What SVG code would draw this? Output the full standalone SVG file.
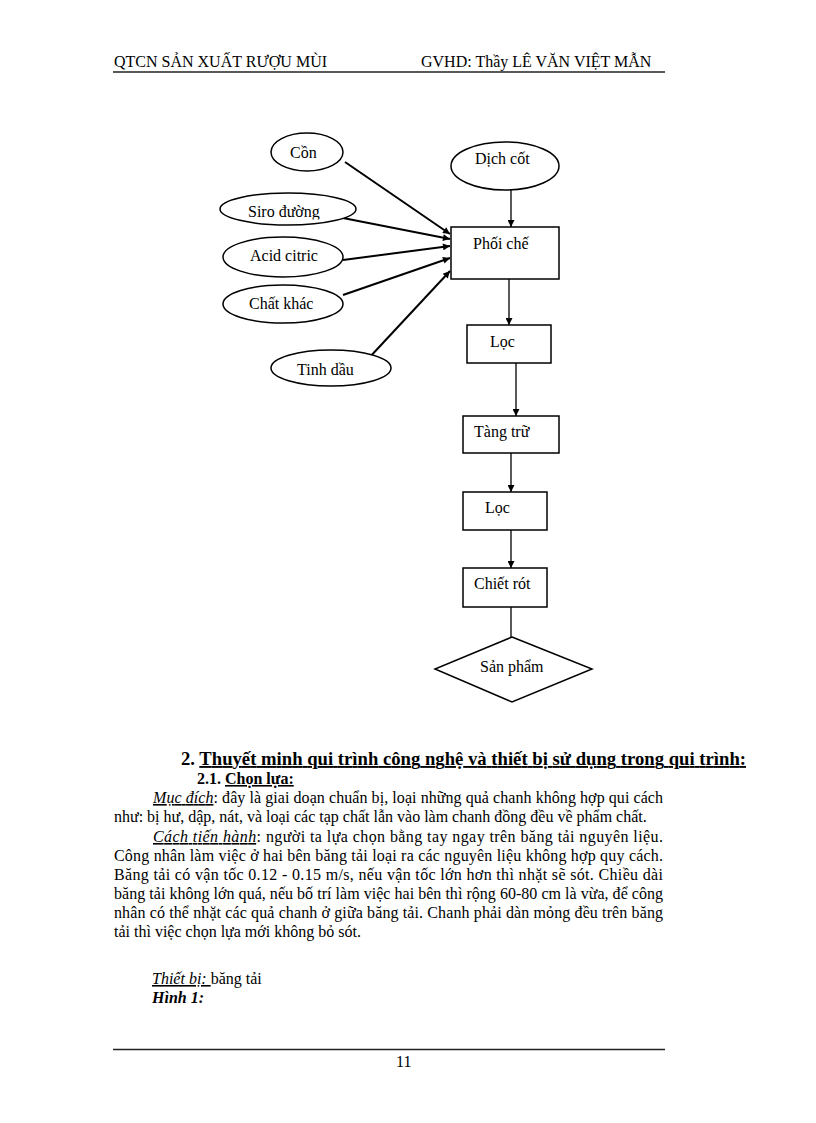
<svg xmlns="http://www.w3.org/2000/svg" width="816" height="1123" viewBox="0 0 816 1123">
<style>
text{font-family:"Liberation Serif","Times New Roman",serif;fill:#000;}
.t{font-size:16px;}
.lbl{font-size:16px;}
.node{fill:#fff;stroke:#000;stroke-width:1.5;}
.edge{stroke:#000;stroke-width:1.3;fill:none;}
.edge2{stroke:#000;stroke-width:2;fill:none;}
.rule{stroke:#222;stroke-width:1.6;}
.iu{font-style:italic;text-decoration:underline;}
.u{text-decoration:underline;}
</style>
<defs>
<marker id="ah" viewBox="0 0 10 10" refX="10" refY="5" markerWidth="9" markerHeight="7" markerUnits="userSpaceOnUse" orient="auto">
<path d="M0,0 L10,5 L0,10 z" fill="#000"/>
</marker>
<clipPath id="siroClip"><rect x="220" y="190" width="140" height="29.5"/></clipPath>
</defs>

<rect width="816" height="1123" fill="#fff"/>

<g id="header">
<text class="t" x="114" y="67">QTCN SẢN XUẤT RƯỢU MÙI</text>
<text class="t" x="421" y="67">GVHD: Thầy LÊ VĂN VIỆT MẪN</text>
<line class="rule" x1="113" y1="72" x2="665" y2="72"/>
</g>

<g id="connectors">
<line class="edge2" x1="345" y1="162" x2="450" y2="234" marker-end="url(#ah)"/>
<line class="edge2" x1="343" y1="218" x2="450" y2="239" marker-end="url(#ah)"/>
<line class="edge2" x1="343" y1="260" x2="450" y2="246" marker-end="url(#ah)"/>
<line class="edge2" x1="343" y1="295" x2="450" y2="258" marker-end="url(#ah)"/>
<line class="edge2" x1="368" y1="359" x2="450" y2="271" marker-end="url(#ah)"/>
<line class="edge" x1="511" y1="180" x2="511" y2="227" marker-end="url(#ah)"/>
<line class="edge" x1="509" y1="265" x2="509" y2="325" marker-end="url(#ah)"/>
<line class="edge" x1="516" y1="360" x2="516" y2="416" marker-end="url(#ah)"/>
<line class="edge" x1="511" y1="453" x2="511" y2="492" marker-end="url(#ah)"/>
<line class="edge" x1="511" y1="530" x2="511" y2="568" marker-end="url(#ah)"/>
<line class="edge" x1="511" y1="607" x2="511" y2="637"/>
</g>

<g id="n-con">
<ellipse class="node" cx="307" cy="152" rx="36" ry="19"/>
<text class="lbl" x="290" y="158">Cồn</text>
</g>
<g id="n-dichcot">
<ellipse class="node" cx="505" cy="166" rx="54" ry="24"/>
<text class="lbl" x="475" y="164">Dịch cốt</text>
</g>
<g id="n-siro">
<ellipse class="node" cx="288" cy="209" rx="68" ry="16"/>
<text class="lbl" x="248" y="217" clip-path="url(#siroClip)">Siro đường</text>
</g>
<g id="n-acid">
<ellipse class="node" cx="283" cy="257" rx="60" ry="20"/>
<text class="lbl" x="250" y="261">Acid citric</text>
</g>
<g id="n-chatkhac">
<ellipse class="node" cx="283" cy="304" rx="60" ry="19"/>
<text class="lbl" x="249" y="309">Chất khác</text>
</g>
<g id="n-tinhdau">
<ellipse class="node" cx="331" cy="368" rx="60" ry="18"/>
<text class="lbl" x="297" y="375">Tinh dầu</text>
</g>
<g id="n-phoiche">
<rect class="node" x="451" y="227" width="108" height="52"/>
<text class="lbl" x="473" y="249">Phối chế</text>
</g>
<g id="n-loc1">
<rect class="node" x="467" y="325" width="84" height="38"/>
<text class="lbl" x="490" y="347">Lọc</text>
</g>
<g id="n-tangtru">
<rect class="node" x="463" y="416" width="96" height="37"/>
<text class="lbl" x="474" y="437">Tàng trữ</text>
</g>
<g id="n-loc2">
<rect class="node" x="463" y="492" width="84" height="38"/>
<text class="lbl" x="485" y="513">Lọc</text>
</g>
<g id="n-chietrot">
<rect class="node" x="463" y="568" width="84" height="39"/>
<text class="lbl" x="474" y="589">Chiết rót</text>
</g>
<g id="n-sanpham">
<polygon class="node" points="512,637 592,669 512,702 435,669"/>
<text class="lbl" x="480" y="672">Sản phẩm</text>
</g>

<g id="body">
<text x="181" y="765" font-size="18.67" font-weight="bold" textLength="565" lengthAdjust="spacing">2. <tspan class="u">Thuyết minh qui trình công nghệ và thiết bị sử dụng trong qui trình:</tspan></text>
<text class="t" x="197" y="784" font-weight="bold">2.1. <tspan class="u">Chọn lựa:</tspan></text>
<text class="t" x="153" y="803" textLength="510" lengthAdjust="spacing"><tspan class="iu">Mục đích</tspan>:  đây là giai doạn chuẩn bị, loại những quả chanh không hợp qui cách</text>
<text class="t" x="114" y="822">như: bị hư, dập, nát, và loại các tạp chất lẫn vào làm chanh đồng đều về phẩm chất.</text>
<text class="t" x="153" y="842" textLength="510" lengthAdjust="spacing"><tspan class="iu">Cách tiến hành</tspan>: người ta lựa chọn bằng tay ngay trên băng tải nguyên liệu.</text>
<text class="t" x="114" y="861" textLength="549" lengthAdjust="spacing">Công nhân làm việc ở hai bên băng tải  loại ra các nguyên liệu không hợp quy cách.</text>
<text class="t" x="114" y="880" textLength="549" lengthAdjust="spacing">Băng tải có vận tốc 0.12 - 0.15 m/s, nếu vận tốc lớn hơn thì nhặt sẽ sót. Chiều dài</text>
<text class="t" x="114" y="899" textLength="549" lengthAdjust="spacing">băng tải không lớn quá, nếu bố trí làm việc hai bên thì rộng 60-80 cm là vừa, để công</text>
<text class="t" x="114" y="918" textLength="549" lengthAdjust="spacing">nhân có thể nhặt các quả chanh ở giữa băng tải. Chanh phải dàn mỏng đều trên băng</text>
<text class="t" x="114" y="937">tải thì việc chọn lựa mới không bỏ sót.</text>
<text class="t" x="152" y="984" xml:space="preserve"><tspan class="iu">Thiết bị: </tspan>băng tải</text>
<text class="t" x="152" y="1003" font-weight="bold" font-style="italic">Hình 1:</text>
</g>

<g id="footer">
<line class="rule" x1="113" y1="1049.5" x2="665" y2="1049.5"/>
<text class="t" x="396" y="1067">11</text>
</g>
</svg>
